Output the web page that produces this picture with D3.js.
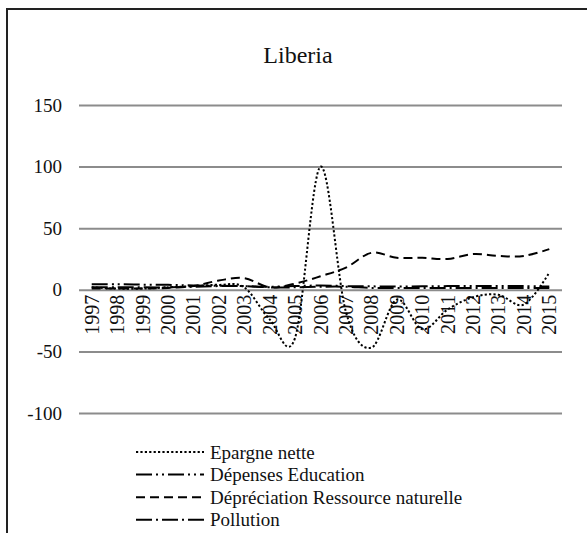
<!DOCTYPE html>
<html>
<head>
<meta charset="utf-8">
<script src="https://cdn.jsdelivr.net/npm/d3@7"></script>
<style>
  html, body { margin: 0; padding: 0; background: #fff; }
  svg { display: block; }
  svg text { font-family: "Liberation Serif", "DejaVu Serif", serif; }
</style>
</head>
<body>
<svg id="chart" width="587" height="533"></svg>
<script>
// Years on the category axis
const years = ["1997","1998","1999","2000","2001","2002","2003","2004","2005","2006",
               "2007","2008","2009","2010","2011","2012","2013","2014","2015"];

// Series values (% of GNI)
const epargneNette = [2, 1, 1, 2, 3, 4, 2, -24, -39, 100, -18, -47, -8, -32, -16, -6, -4, -12, 14];
const depensesEducation = [4.5, 4.5, 4.2, 4, 3.5, 3.2, 3, 2.5, 3, 3.5, 3, 2.8, 2.6, 2.8, 3, 3, 3, 3, 2.6];
const depreciationRessource = [1, 1, 1, 1.5, 3, 7.5, 9.5, 2, 5, 11, 18, 30, 26, 26, 25, 29, 27.5, 27.5, 33];
const pollution = [2, 2, 2, 2, 2.5, 3, 3, 2, 2, 2.5, 2.5, 1.5, 1.5, 1.5, 1.5, 1.5, 1.5, 1.5, 1.5];

const yTicks = [-100, -50, 0, 50, 100, 150];

const seriesNames = ["Epargne nette", "Dépenses Education", "Dépréciation Ressource naturelle", "Pollution"];
const seriesValues = [epargneNette, depensesEducation, depreciationRessource, pollution];
const seriesDash = ["2.2,2.2", "16,4,2,4,2,4", "9,5", "16,4,2,4"];

const FONT = "'Liberation Serif', 'DejaVu Serif', serif";
const svg = d3.select("#chart");

// Outer chart frame
svg.append("rect")
  .attr("x", 7).attr("y", 9)
  .attr("width", 600).attr("height", 560)
  .attr("fill", "none").attr("stroke", "#222").attr("stroke-width", 2);

// Title
svg.append("text")
  .attr("x", 298).attr("y", 63)
  .attr("text-anchor", "middle")
  .attr("font-family", FONT)
  .attr("font-size", 24)
  .attr("fill", "#111")
  .text("Liberia");

const x = d3.scaleBand().domain(years).range([79, 562]);
const y = d3.scaleLinear().domain([-100, 150]).range([413, 105]);

// Horizontal gridlines + value labels
const yAxis = d3.axisLeft(y).tickValues(yTicks).tickSize(-(562 - 79)).tickPadding(17)
  .tickFormat(d => String(d));
const gy = svg.append("g").attr("transform", "translate(79,0)").call(yAxis)
  .attr("font-family", FONT);
gy.select(".domain").remove();
gy.selectAll(".tick line").attr("stroke", "#8c8c8c").attr("stroke-width", 2);
gy.selectAll(".tick text").attr("font-size", 19).attr("fill", "#111");

// Category labels, rotated, just under the zero line
const gx = svg.append("g").attr("transform", `translate(0,${y(0)})`);
gx.selectAll("text").data(years).join("text")
  .attr("transform", d => `translate(${x(d) + x.bandwidth() / 2},5) rotate(-90)`)
  .attr("text-anchor", "end")
  .attr("dy", "0.35em")
  .attr("font-family", FONT)
  .attr("font-size", 20)
  .attr("fill", "#111")
  .text(d => d);

// Smoothed series lines
const line = d3.line()
  .x((d, i) => x(years[i]) + x.bandwidth() / 2)
  .y(d => y(d))
  .curve(d3.curveCardinal.tension(0));

const order = [2, 3, 1, 0];
order.forEach(k => {
  svg.append("path")
    .datum(seriesValues[k])
    .attr("d", line)
    .attr("fill", "none")
    .attr("stroke", "#000")
    .attr("stroke-width", 2)
    .attr("stroke-dasharray", seriesDash[k]);
});

// Legend
const legend = svg.append("g");
seriesNames.forEach((name, i) => {
  const ly = 452 + i * 22.6;
  legend.append("line")
    .attr("x1", 136).attr("x2", 204)
    .attr("y1", ly).attr("y2", ly)
    .attr("stroke", "#000").attr("stroke-width", 2)
    .attr("stroke-dasharray", seriesDash[i]);
  legend.append("text")
    .attr("x", 210).attr("y", ly)
    .attr("dy", "0.35em")
    .attr("font-family", FONT)
    .attr("font-size", 19)
    .attr("fill", "#111")
    .text(name);
});
</script>
</body>
</html>
